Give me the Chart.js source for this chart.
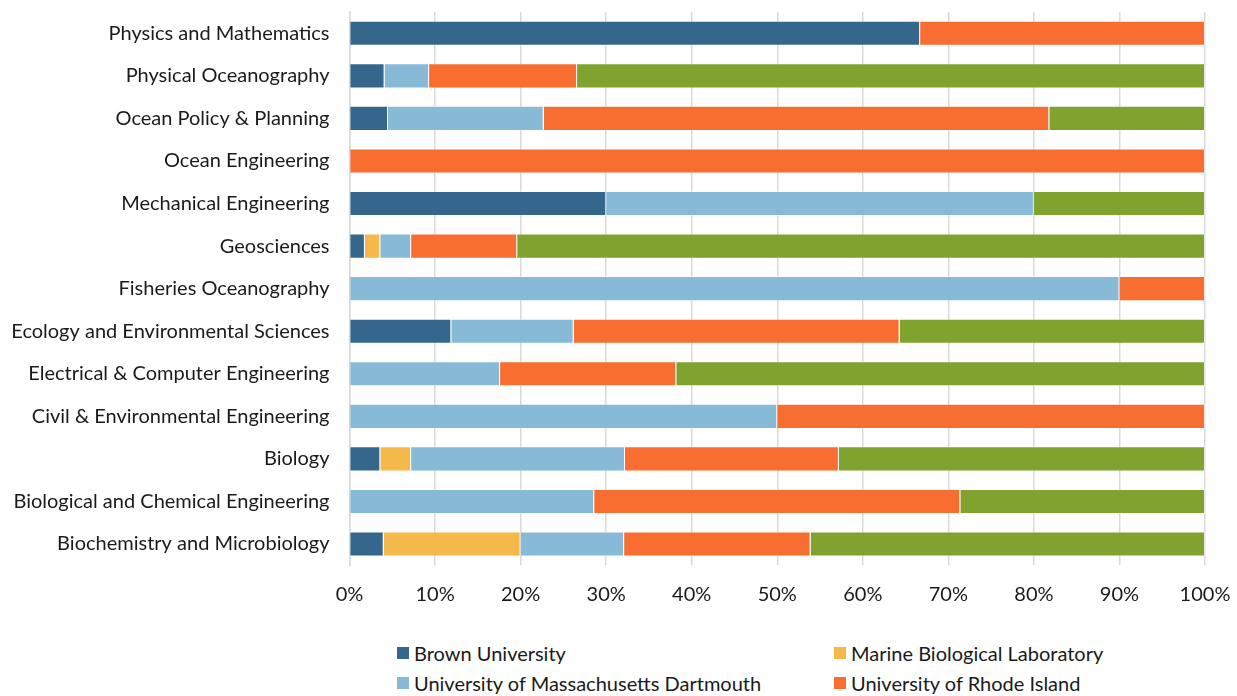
<!DOCTYPE html>
<html>
<head>
<meta charset="utf-8">
<script src="https://cdn.jsdelivr.net/npm/chart.js@4/dist/chart.umd.min.js"></script>
<style>
  html, body { margin: 0; padding: 0; background: #fff; overflow: hidden; }
  #wrap { position: relative; width: 1237px; height: 620px; }
  #legend {
    position: absolute; left: 397px; top: 641px;
    display: grid; grid-template-columns: 437px 400px; row-gap: 7px;
    font-family: Lato, "Open Sans", sans-serif; font-size: 20px; color: #1a1a1a;
  }
  #legend .item { display: flex; align-items: center; height: 23px; white-space: nowrap; }
  #legend .box { width: 12px; height: 12px; margin-right: 5px; flex: none; }
</style>
</head>
<body>
<div id="wrap"><canvas id="chart"></canvas></div>
<div id="legend"></div>
<script>
const departments = [
    'Physics and Mathematics',
    'Physical Oceanography',
    'Ocean Policy & Planning',
    'Ocean Engineering',
    'Mechanical Engineering',
    'Geosciences',
    'Fisheries Oceanography',
    'Ecology and Environmental Sciences',
    'Electrical & Computer Engineering',
    'Civil & Environmental Engineering',
    'Biology',
    'Biological and Chemical Engineering',
    'Biochemistry and Microbiology'
];

// share of each department (%) by institution
const brown = [66.7, 4.1, 4.5, 0, 30, 1.8, 0, 11.9, 0, 0, 3.6, 0, 4.0];
const mbl   = [0, 0, 0, 0, 0, 1.8, 0, 0, 0, 0, 3.6, 0, 16.0];
const umassd = [0, 5.2, 18.2, 0, 50, 3.6, 90, 14.3, 17.6, 50, 25.0, 28.6, 12.1];
const uri   = [33.3, 17.3, 59.1, 100, 0, 12.4, 10, 38.1, 20.6, 50, 25.0, 42.8, 21.8];
const whoi  = [0, 73.4, 18.2, 0, 20, 80.4, 0, 35.7, 61.8, 0, 42.8, 28.6, 46.1];

const xTicks = [0, 10, 20, 30, 40, 50, 60, 70, 80, 90, 100];

const FONT = 'Lato, "Open Sans", sans-serif';

function series(label, data, color) {
    return {
        label: label,
        data: data,
        backgroundColor: color,
        borderColor: 'rgba(255,255,255,0.4)',
        borderWidth: 1,
        barPercentage: 0.59,
        categoryPercentage: 1
    };
}

// keep the plot box fixed: no extra room for overhanging tick labels
function noPadding(scale) {
    scale.paddingTop = 0;
    scale.paddingBottom = 0;
    scale.paddingLeft = 0;
    scale.paddingRight = 0;
}

const ctx = document.getElementById('chart').getContext('2d');

const chart = new Chart(ctx, {
    type: 'bar',
    data: {
        labels: departments,
        datasets: [
            series('Brown University', brown, '#35668B'),
            series('Marine Biological Laboratory', mbl, '#F5B84A'),
            series('University of Massachusetts Dartmouth', umassd, '#86BAD7'),
            series('University of Rhode Island', uri, '#F86D30'),
            series('Woods Hole Oceanographic Institution', whoi, '#80A32F')
        ]
    },
    options: {
        indexAxis: 'y',
        responsive: true,
        maintainAspectRatio: false,
        animation: false,
        layout: { padding: { top: 12, right: 32, bottom: 10, left: 0 } },
        plugins: {
            legend: { display: false },
            tooltip: { enabled: false }
        },
        scales: {
            x: {
                stacked: true,
                min: 0,
                max: 100,
                afterBuildTicks: scale => { scale.ticks = xTicks.map(v => ({ value: v })); },
                afterFit: scale => { scale.height = 44.7; noPadding(scale); },
                grid: { color: '#d9d9d9', lineWidth: 1.5, drawTicks: false },
                border: { display: false },
                ticks: {
                    padding: 17,
                    color: '#1a1a1a',
                    font: { family: FONT, size: 20 },
                    callback: v => v + '%'
                }
            },
            y: {
                stacked: true,
                afterFit: scale => { scale.width = 349.5; noPadding(scale); },
                grid: { display: false, drawTicks: false },
                border: { display: true, color: '#d9d9d9', width: 1.5 },
                ticks: {
                    padding: 20,
                    color: '#1a1a1a',
                    font: { family: FONT, size: 20 }
                }
            }
        }
    }
});

// two-column legend under the plot
const legendBox = document.getElementById('legend');
chart.data.datasets.forEach(ds => {
    const item = document.createElement('div');
    item.className = 'item';
    const box = document.createElement('span');
    box.className = 'box';
    box.style.background = ds.backgroundColor;
    const text = document.createElement('span');
    text.innerText = ds.label;
    item.appendChild(box);
    item.appendChild(text);
    legendBox.appendChild(item);
});
</script>
</body>
</html>
